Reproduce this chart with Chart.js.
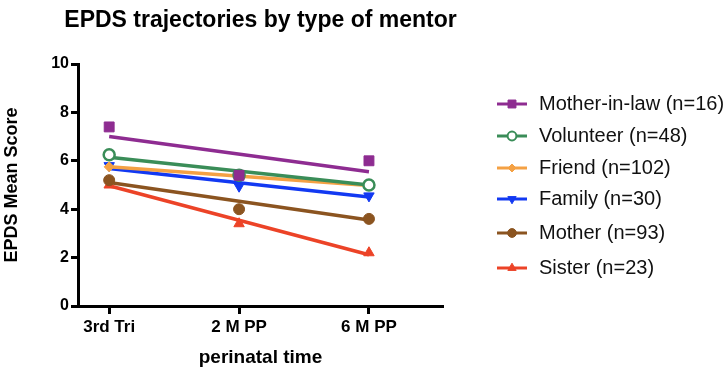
<!DOCTYPE html>
<html>
<head>
<meta charset="utf-8">
<script src="https://cdn.jsdelivr.net/npm/chart.js@4.4.0/dist/chart.umd.min.js"></script>
<style>
  html, body { margin: 0; padding: 0; background: #fff; }
  #wrap { width: 725px; height: 370px; }
</style>
</head>
<body>
<div id="wrap"><canvas id="chart" width="725" height="370"></canvas></div>
<script>
// Datos
const categories = ["3rd Tri", "2 M PP", "6 M PP"];
const seriesNames = ["Mother-in-law (n=16)", "Volunteer (n=48)", "Friend (n=102)", "Family (n=30)", "Mother (n=93)", "Sister (n=23)"];
const motherInLaw = [7.4, 5.4, 6.0];
const volunteer = [6.25, 5.4, 5.0];
const friend = [5.75, 5.35, 5.0];
const family = [5.8, 4.95, 4.55];
const mother = [5.2, 4.0, 3.6];
const sister = [5.0, 3.4, 2.2];
// Rectas de tendencia (inicio en 3rd Tri, fin en 6 M PP)
const fitStart = [7.0, 6.15, 5.75, 5.68, 5.1, 4.97];
const fitEnd = [5.55, 5.0, 4.98, 4.5, 3.55, 2.12];
const yTicks = [0, 2, 4, 6, 8, 10];

const FONT = "'Liberation Sans', Arial, Helvetica, sans-serif";
const allSeries = [motherInLaw, volunteer, friend, family, mother, sister];
const colors = ["#8e2c91", "#3a8d58", "#f4a144", "#1239f2", "#8b5420", "#ec4327"];
const markers = [
    { style: "rect", radius: 7, rotation: 0, fill: true },
    { style: "circle", radius: 5.5, rotation: 0, fill: false },
    { style: "rectRot", radius: 5, rotation: 0, fill: true },
    { style: "triangle", radius: 6, rotation: 180, fill: true },
    { style: "circle", radius: 5.5, rotation: 0, fill: true },
    { style: "triangle", radius: 6, rotation: 0, fill: true },
];

const datasets = [];
allSeries.forEach((values, i) => {
    const m = markers[i];
    datasets.push({
        label: seriesNames[i],
        data: values.map((v, k) => ({ x: k, y: v })),
        showLine: false,
        pointStyle: m.style,
        pointRadius: m.radius,
        pointRotation: m.rotation,
        pointBackgroundColor: m.fill ? colors[i] : "#fff",
        pointBorderColor: colors[i],
        pointBorderWidth: m.fill ? 1 : 2.5,
        order: 0,
    });
    datasets.push({
        label: seriesNames[i] + " fit",
        data: [{ x: 0, y: fitStart[i] }, { x: categories.length - 1, y: fitEnd[i] }],
        borderColor: colors[i],
        borderWidth: 3.5,
        pointRadius: 0,
        showLine: true,
        fill: false,
        order: 1,
    });
});

// Título centrado sobre el área del gráfico
const titlePlugin = {
    id: "titleOverArea",
    afterDraw(chart) {
        const ctx = chart.ctx;
        const area = chart.chartArea;
        ctx.save();
        ctx.fillStyle = "#000";
        ctx.font = "bold 23px " + FONT;
        ctx.textAlign = "center";
        ctx.textBaseline = "middle";
        ctx.fillText("EPDS trajectories by type of mentor", (area.left + area.right) / 2, 21);
        ctx.restore();
    },
};

// Leyenda con línea y marcador
const legendPlugin = {
    id: "lineLegend",
    afterDraw(chart) {
        const ctx = chart.ctx;
        const rowsY = [104, 136, 168, 199, 233, 268];
        ctx.save();
        seriesNames.forEach((name, i) => {
            const y = rowsY[i];
            const m = markers[i];
            ctx.strokeStyle = colors[i];
            ctx.lineWidth = 3;
            ctx.beginPath();
            ctx.moveTo(497, y);
            ctx.lineTo(527, y);
            ctx.stroke();
            ctx.fillStyle = m.fill ? colors[i] : "#fff";
            ctx.lineWidth = m.fill ? 1 : 2;
            Chart.helpers.drawPoint(ctx, {
                pointStyle: m.style,
                radius: m.radius * 0.8,
                rotation: m.rotation,
                borderWidth: m.fill ? 1 : 2,
            }, 512, y);
            ctx.fillStyle = "#111";
            ctx.font = "20px " + FONT;
            ctx.textAlign = "left";
            ctx.textBaseline = "middle";
            ctx.fillText(name, 539, y);
        });
        ctx.restore();
    },
};

new Chart(document.getElementById("chart"), {
    type: "scatter",
    data: { datasets: datasets },
    options: {
        responsive: false,
        animation: false,
        layout: { padding: { top: 64, right: 282, bottom: 0, left: 0 } },
        plugins: {
            legend: { display: false },
            tooltip: { enabled: false },
        },
        scales: {
            x: {
                type: "linear",
                min: -0.24,
                max: 2.57,
                afterBuildTicks: (scale) => {
                    scale.ticks = categories.map((c, k) => ({ value: k }));
                },
                afterFit: (scale) => { scale.height = 64; },
                ticks: {
                    color: "#000",
                    font: { family: FONT, size: 17, weight: "bold" },
                    padding: 3,
                    callback: (value) => categories[value],
                },
                grid: { drawOnChartArea: false, drawTicks: true, tickLength: 8, tickWidth: 3, color: "#000" },
                border: { display: true, width: 3, color: "#000" },
                title: {
                    display: true,
                    text: "perinatal time",
                    color: "#000",
                    font: { family: FONT, size: 19, weight: "bold" },
                    padding: { top: 0, bottom: 1 },
                },
            },
            y: {
                min: 0,
                max: 10,
                afterBuildTicks: (scale) => {
                    scale.ticks = yTicks.map((v) => ({ value: v }));
                },
                afterFit: (scale) => { scale.width = 78; },
                ticks: {
                    color: "#000",
                    font: { family: FONT, size: 16, weight: "bold" },
                    padding: 2,
                },
                grid: { drawOnChartArea: false, drawTicks: true, tickLength: 7, tickWidth: 3, color: "#000" },
                border: { display: true, width: 3, color: "#000" },
                title: {
                    display: true,
                    text: "EPDS Mean Score",
                    color: "#000",
                    font: { family: FONT, size: 18, weight: "bold" },
                    padding: { top: 1, bottom: 0 },
                },
            },
        },
    },
    plugins: [titlePlugin, legendPlugin],
});
</script>
</body>
</html>
